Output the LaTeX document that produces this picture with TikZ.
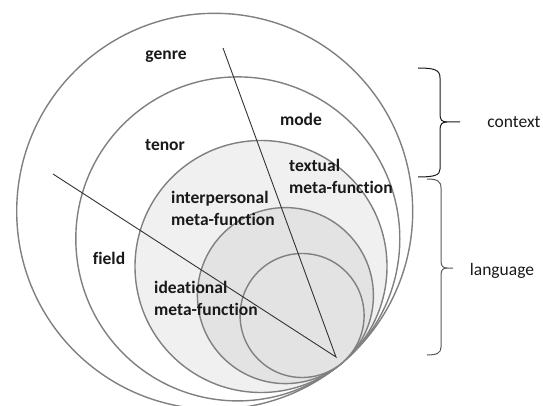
\documentclass[tikz,border=0pt]{standalone}
\usepackage{fontspec}
\setmainfont[Ligatures=NoCommon]{Carlito}

\begin{document}
\begin{tikzpicture}[x=1pt, y=-1pt,
    ring/.style={draw=black!50, line width=1.4pt},
    ray/.style={draw=black!80, line width=0.9pt},
    lbl/.style={font=\fontsize{17.5}{22}\selectfont\bfseries, text=black!90, inner sep=0pt, align=left},
    side/.style={font=\fontsize{17.5}{22}\selectfont, text=black!90, inner sep=0pt},
    bracket/.style={line width=1pt}]

    \useasboundingbox (0,0) rectangle (543,406);

    % Круги, касающиеся друг друга внизу справа
    \foreach \cx/\cy/\r/\col in {214.7/211.3/198/white, 237.8/238.9/162/white,
        261.0/266.5/126/gray!12, 285.4/295.6/88/gray!22, 302.1/315.5/62/gray!22}
        \draw[ring, fill=\col] (\cx,\cy) circle (\r pt);

    % Лучи из общей вершины
    \coordinate (apex) at (336,357);
    \coordinate (genreend) at (223,48);
    \coordinate (fieldend) at (53,174);
    \draw[ray] (genreend) -- (apex) -- (fieldend);

    % Подписи внутри кругов
    \node[lbl] (genre) at (166,57) {genre};
    \node[lbl] (mode) at (301,119) {mode};
    \node[lbl] (tenor) at (165,145) {tenor};
    \node[lbl] (field) at (109,258) {field};
    \node[lbl, anchor=west] (textual) at (289,176) {textual\\meta-function};
    \node[lbl, anchor=west] (interpersonal) at (171,208) {interpersonal\\meta-function};
    \node[lbl, anchor=west] (ideational) at (154,298) {ideational\\meta-function};

    % Скобки справа
    \draw[bracket, black!90] (418,68) .. controls (435,68) and (440,70) .. (440,78) -- (440,114)
        .. controls (440,120) and (442,122) .. (447,122) -- (460,122);
    \draw[bracket, black!90] (447,122) .. controls (442,122) and (440,124) .. (440,130) -- (440,169)
        .. controls (440,175) and (435,177) .. (418,177);
    \draw[bracket, black!65] (427,179) .. controls (437,179) and (441,181) .. (441,188) -- (441,261)
        .. controls (441,266) and (443,268) .. (447,268) -- (453,268);
    \draw[bracket, black!65] (447,268) .. controls (443,268) and (441,270) .. (441,275) -- (441,347)
        .. controls (441,353) and (437,355) .. (427,355);

    \node[side] (context) at (514,122) {context};
    \node[side] (language) at (502,271) {language};
\end{tikzpicture}
\end{document}
